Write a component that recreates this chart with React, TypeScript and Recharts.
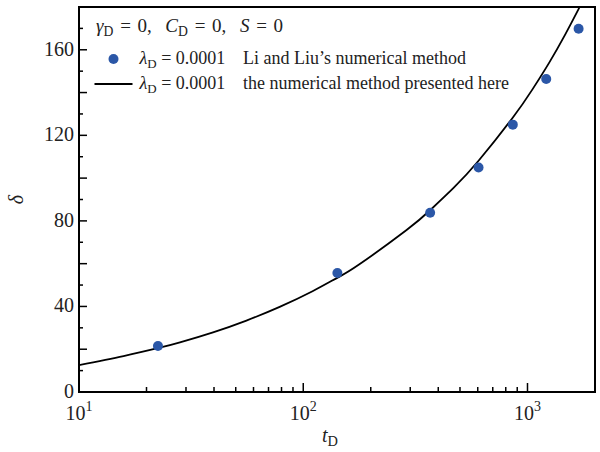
import React from 'react';
import { ComposedChart, Line, Scatter, XAxis, YAxis, ReferenceArea } from 'recharts';

// Li and Liu's numerical method (dots)
const liT = [22.5, 142, 368, 605, 860, 1212, 1690];
const liDelta = [21.5, 55.6, 83.8, 105, 125, 146.3, 169.8];

// the numerical method presented here (solid line)
const curveT = [10, 15.8, 22.9, 28.2, 39.6, 55.8, 78.5, 110, 143, 178, 288, 369, 468, 605, 859, 1054, 1250, 1472, 1680, 1820];
const curveDelta = [12.6, 16.8, 20.7, 23.2, 27.9, 33.4, 39.8, 47.1, 53.6, 59.7, 75.6, 85.1, 95.4, 108.1, 128.2, 141.6, 154, 167.1, 178.5, 185.9];

const xTicks = [10, 20, 30, 40, 50, 60, 70, 80, 90, 100, 200, 300, 400, 500, 600, 700, 800, 900, 1000, 2000];
const xMajor = [10, 100, 1000];
const yTicks = [0, 10, 20, 30, 40, 50, 60, 70, 80, 90, 100, 110, 120, 130, 140, 150, 160, 170, 180];
const yLabels = [0, 40, 80, 120, 160];

const liData = liT.map((t, i) => ({ t, d: liDelta[i] }));
const curveData = curveT.map((t, i) => ({ t, d: curveDelta[i] }));

const FONT = '"Liberation Serif", "DejaVu Serif", serif';
const DOT = '#2b57a7';

const XTick = (props: any) => {
  const { x, y, payload } = props;
  const v = payload.value;
  const major = xMajor.includes(v);
  return (
    <g>
      <line x1={x} x2={x} y1={y} y2={y - (major ? 9 : 5)} stroke="#000" strokeWidth={1.5} />
      {major && (
        <text x={x} y={y + 28} textAnchor="middle" fontFamily={FONT} fontSize={20} fill="#222">
          10
          <tspan dy={-9} fontSize={14}>{Math.round(Math.log10(v))}</tspan>
        </text>
      )}
    </g>
  );
};

const YTick = (props: any) => {
  const { x, y, payload } = props;
  const v = payload.value;
  const long = v % 20 === 0;
  return (
    <g>
      <line x1={x} x2={x + (long ? 8 : 4)} y1={y} y2={y} stroke="#000" strokeWidth={1.5} />
      {yLabels.includes(v) && (
        <text x={x - 5} y={y + 6} textAnchor="end" fontFamily={FONT} fontSize={20} fill="#222">
          {v}
        </text>
      )}
    </g>
  );
};

const Sub = ({ children }: { children: React.ReactNode }) => (
  <span style={{ fontStyle: 'normal', fontSize: '0.72em', position: 'relative', top: '0.3em' }}>{children}</span>
);

const legendText: React.CSSProperties = {
  position: 'absolute',
  fontFamily: FONT,
  fontSize: 18,
  color: '#222',
  whiteSpace: 'nowrap',
};

export default function App() {
  return (
    <div style={{ position: 'absolute', left: 0, top: 0, width: 600, height: 452, background: '#fff' }}>
      <ComposedChart width={600} height={452} margin={{ top: 7, right: 5, left: 0, bottom: 0 }}>
        <XAxis
          dataKey="t"
          type="number"
          scale="log"
          domain={[10, 2000]}
          allowDataOverflow
          ticks={xTicks}
          tick={<XTick />}
          tickSize={0}
          tickMargin={0}
          tickLine={false}
          axisLine={false}
          height={60}
          interval={0}
        />
        <YAxis
          dataKey="d"
          type="number"
          domain={[0, 180]}
          allowDataOverflow
          ticks={yTicks}
          tick={<YTick />}
          tickSize={0}
          tickMargin={0}
          tickLine={false}
          axisLine={false}
          width={79}
          interval={0}
        />
        <Line
          data={curveData}
          dataKey="d"
          type="natural"
          stroke="#000"
          strokeWidth={1.8}
          dot={false}
          isAnimationActive={false}
        />
        <Scatter data={liData} dataKey="d" fill={DOT} isAnimationActive={false} shape={(p: any) => <circle cx={p.cx} cy={p.cy} r={5} fill={DOT} />} />
        <ReferenceArea x1={10} x2={2000} y1={0} y2={180} fill="none" stroke="#000" strokeWidth={2} ifOverflow="visible" />
      </ComposedChart>

      {/* axis titles */}
      <div style={{ position: 'absolute', left: 322, top: 424, fontFamily: FONT, fontSize: 20, color: '#222' }}>
        <i>t</i>
        <Sub>D</Sub>
      </div>
      <div
        style={{
          position: 'absolute',
          left: 12,
          top: 188,
          fontFamily: FONT,
          fontSize: 20,
          fontStyle: 'italic',
          color: '#222',
          transform: 'rotate(-90deg)',
        }}
      >
        δ
      </div>

      {/* legend */}
      <div style={{ ...legendText, left: 96, top: 15, fontSize: 19, wordSpacing: 2 }}>
        <i>γ</i>
        <Sub>D</Sub> = 0, &nbsp;<i>C</i>
        <Sub>D</Sub> = 0, &nbsp;<i>S</i> = 0
      </div>
      <svg style={{ position: 'absolute', left: 0, top: 0 }} width={600} height={120}>
        <circle cx={113.5} cy={59} r={5} fill={DOT} />
        <line x1={94.5} x2={132.5} y1={84} y2={84} stroke="#000" strokeWidth={1.8} />
      </svg>
      <div style={{ ...legendText, left: 139.5, top: 48 }}>
        <i>λ</i>
        <Sub>D</Sub> = 0.0001
      </div>
      <div style={{ ...legendText, left: 243, top: 48 }}>Li and Liu’s numerical method</div>
      <div style={{ ...legendText, left: 139.5, top: 73 }}>
        <i>λ</i>
        <Sub>D</Sub> = 0.0001
      </div>
      <div style={{ ...legendText, left: 243, top: 73 }}>the numerical method presented here</div>
    </div>
  );
}
